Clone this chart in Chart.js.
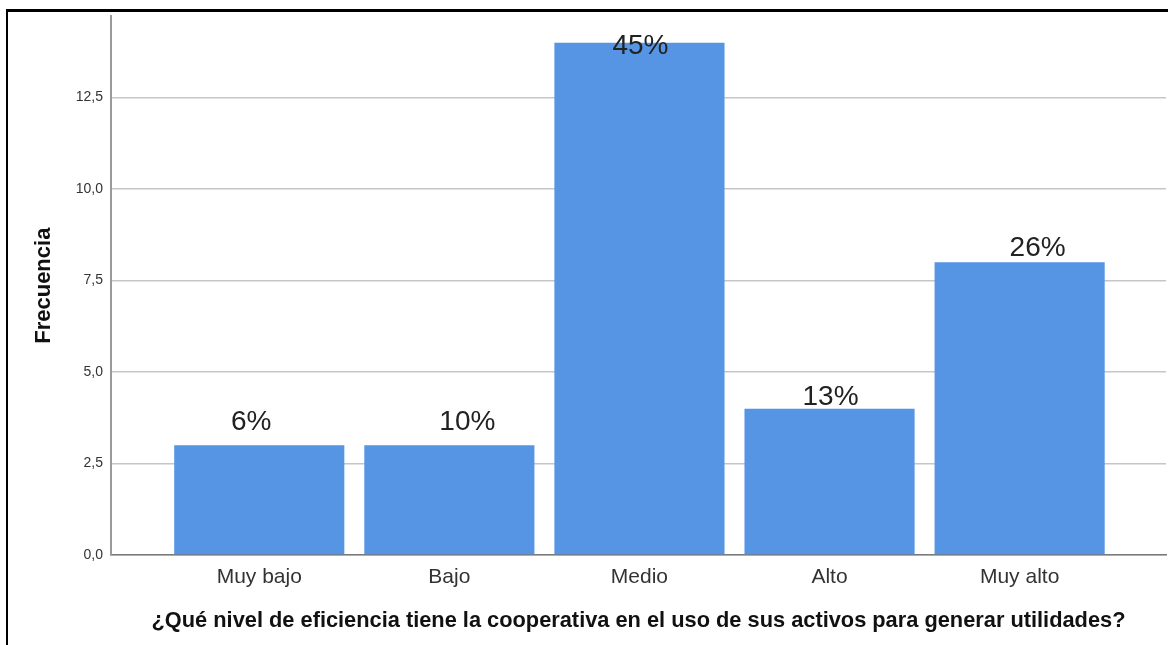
<!DOCTYPE html>
<html lang="es">
<head>
<meta charset="utf-8">
<title>Eficiencia en el uso de activos</title>
<script src="https://cdn.jsdelivr.net/npm/chart.js@4.4.1/dist/chart.umd.min.js"></script>
<style>
  html, body { margin: 0; padding: 0; background: #ffffff; }
  #wrap { position: relative; width: 1168px; height: 645px; overflow: hidden; }
  #frame {
    position: absolute; left: 6px; top: 9px; right: -10px; bottom: -10px;
    border-top: 3px solid #000; border-left: 2px solid #000;
    pointer-events: none;
  }
  canvas { position: absolute; left: 0; top: 0; }
</style>
</head>
<body>
<div id="wrap">
  <canvas id="chart" width="1168" height="645"></canvas>
  <div id="frame"></div>
</div>
<script>
// Response categories, frequencies and percentage labels
const categories = ['Muy bajo', 'Bajo', 'Medio', 'Alto', 'Muy alto'];
const frequencies = [3, 3, 14, 4, 8];
const percentLabels = ['6%', '10%', '45%', '13%', '26%'];
const yTicks = [0, 2.5, 5, 7.5, 10, 12.5];

const FONT = '"Liberation Sans", Arial, Helvetica, sans-serif';

// Writes the percentage above each bar
const percentLabelPlugin = {
  id: 'percentLabels',
  afterDatasetsDraw(chart, args, opts) {
    const { ctx } = chart;
    const meta = chart.getDatasetMeta(0);
    ctx.save();
    ctx.font = `${opts.size}px ${FONT}`;
    ctx.fillStyle = opts.color;
    ctx.textAlign = 'center';
    ctx.textBaseline = 'alphabetic';
    meta.data.forEach((bar, i) => {
      const lift = opts.lift[i] || 0;
      const dx = opts.dx[i] || 0;
      ctx.fillText(percentLabels[i], bar.x + dx, bar.y - lift);
    });
    ctx.restore();
  }
};

new Chart(document.getElementById('chart'), {
  type: 'bar',
  data: {
    datasets: [{
      data: frequencies.map((v, i) => ({ x: i, y: v })),
      backgroundColor: '#5595e4',
      borderWidth: 0,
      barPercentage: 0.895,
      categoryPercentage: 1
    }]
  },
  options: {
    responsive: false,
    animation: false,
    events: [],
    layout: { padding: { top: 9, right: 2, left: 0, bottom: 0 } },
    plugins: {
      legend: { display: false },
      tooltip: { enabled: false },
      percentLabels: {
        size: 28,
        color: '#222222',
        lift: [15, 15, -11, 4, 6],
        dx: [-8, 18, 1, 1, 18]
      }
    },
    scales: {
      x: {
        type: 'linear',
        offset: false,
        min: -0.78,
        max: 4.77,
        grid: { display: false, drawTicks: false },
        border: { display: true, color: '#7a7a7a', width: 1.5 },
        ticks: {
          stepSize: 1,
          includeBounds: false,
          autoSkip: false,
          maxRotation: 0,
          padding: 10,
          color: '#333333',
          font: { family: FONT, size: 21 },
          callback: (v) => Number.isInteger(v) && categories[v] !== undefined ? categories[v] : ''
        },
        title: {
          display: true,
          text: '¿Qué nivel de eficiencia tiene la cooperativa en el uso de sus activos para generar utilidades?',
          color: '#111111',
          font: { family: FONT, size: 21.8, weight: 'bold' },
          padding: { top: 0, bottom: 11 }
        },
        afterFit: (scale) => { scale.height = 90; }
      },
      y: {
        min: 0,
        max: 14.72,
        grid: { color: '#c6c6c6', lineWidth: 1.5, drawTicks: false },
        border: { display: true, color: '#9a9a9a', width: 2 },
        afterBuildTicks: (scale) => { scale.ticks = yTicks.map(v => ({ value: v })); },
        ticks: {
          padding: 8,
          color: '#333333',
          font: { family: FONT, size: 14 },
          callback: (v) => v.toFixed(1).replace('.', ',')
        },
        title: {
          display: true,
          text: 'Frecuencia',
          color: '#111111',
          font: { family: FONT, size: 22, weight: 'bold' },
          padding: { top: 31, bottom: 0 }
        },
        afterFit: (scale) => { scale.width = 111; }
      }
    }
  },
  plugins: [percentLabelPlugin]
});
</script>
</body>
</html>
